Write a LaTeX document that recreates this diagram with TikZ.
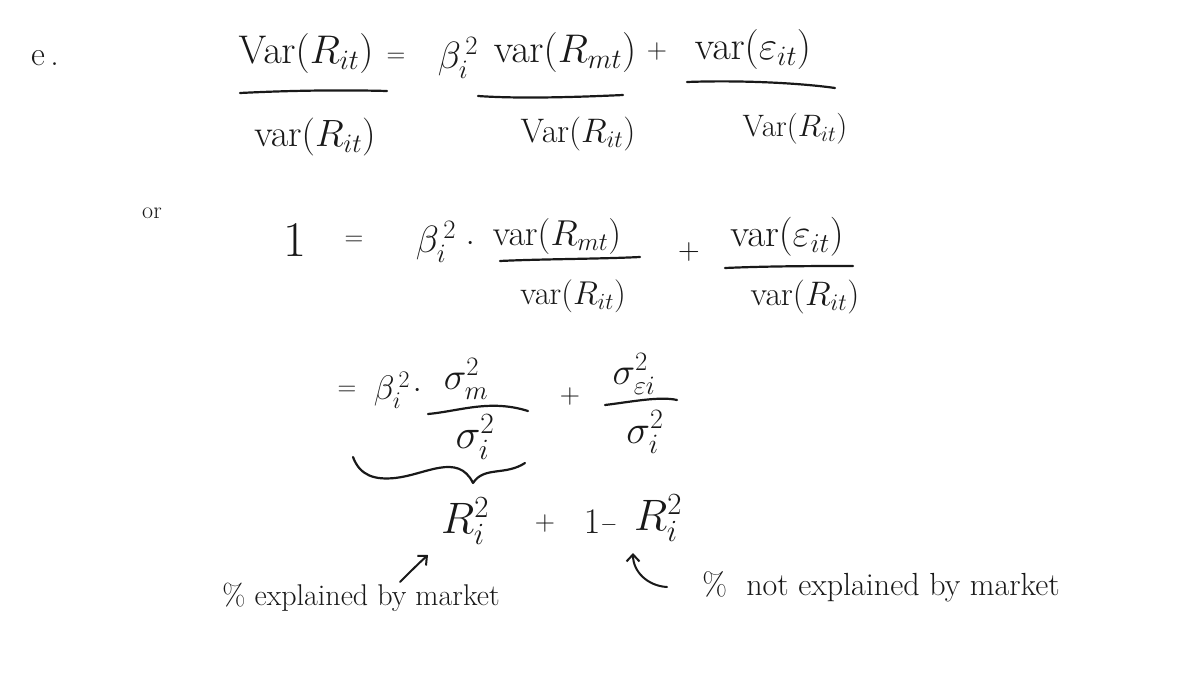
\RequirePackage{fix-cm}
\documentclass[tikz,border=0pt]{standalone}
\usepackage{amsmath}
\usetikzlibrary{arrows.meta}
\newcommand{\fsz}[1]{\fontsize{#1}{#1}\selectfont}
\begin{document}
\begin{tikzpicture}[x=1pt,y=-1pt]
\tikzset{
  ink/.style={line width=2.2pt, line cap=round, line join=round, black!90},
  arr/.style={ink, line width=2pt, -{Straight Barb[length=7pt,width=13pt]}},
  m/.style={inner sep=0pt, outer sep=0pt, text=black!90},
}
\useasboundingbox[fill=white] (0,0) rectangle (1182,674);
% ---------------- line 1
\node[m,font=\fsz{34}] (e) at (45,58) {e\,.};
\node[m,font=\fsz{40}] (n1) at (306,54) {$\mathrm{Var}(R_{it})$};
\node[m,font=\fsz{26}] (eq1) at (396,58) {$=$};
\node[m,font=\fsz{38}] (b1) at (458,58) {$\beta_i^{\,2}$};
\node[m,font=\fsz{40}] (n2) at (565,53) {$\mathrm{var}(R_{mt})$};
\node[m,font=\fsz{28}] (p1) at (657,52) {$+$};
\node[m,font=\fsz{40}] (n3) at (753,50) {$\mathrm{var}(\varepsilon_{it})$};
\draw[ink] (240,93) .. controls (300,90) and (350,90) .. (387,91);
\draw[ink] (478,96) .. controls (520,99) and (580,97) .. (623,95);
\draw[ink] (687,82) .. controls (740,80) and (800,83) .. (835,88);
\node[m,font=\fsz{38}] (d1) at (315,137) {$\mathrm{var}(R_{it})$};
\node[m,font=\fsz{34}] (d2) at (578,134) {$\mathrm{Var}(R_{it})$};
\node[m,font=\fsz{31}] (d3) at (795,129) {$\mathrm{Var}(R_{it})$};
% ---------------- line 2
\node[m,font=\fsz{24}] (or) at (152,213) {or};
\node[m,font=\fsz{50}] (one) at (295,240) {$1$};
\node[m,font=\fsz{26}] (eq2) at (354,241) {$=$};
\node[m,font=\fsz{38}] (b2) at (436,242) {$\beta_i^{\,2}$};
\node[m,font=\fsz{30}] (dot2) at (471,244) {$\cdot$};
\node[m,font=\fsz{36}] (n4) at (557,236) {$\mathrm{var}(R_{mt})$};
\draw[ink] (500,261) .. controls (540,259) and (600,259) .. (640,257);
\node[m,font=\fsz{33}] (d4) at (573,296) {$\mathrm{var}(R_{it})$};
\node[m,font=\fsz{30}] (p2) at (689,252) {$+$};
\node[m,font=\fsz{39}] (n5) at (787,237) {$\mathrm{var}(\varepsilon_{it})$};
\draw[ink] (725,268) .. controls (770,266) and (820,266) .. (853,266);
\node[m,font=\fsz{34}] (d5) at (805,297) {$\mathrm{var}(R_{it})$};
% ---------------- line 3
\node[m,font=\fsz{26}] (eq3) at (347,391) {$=$};
\node[m,font=\fsz{34}] (b3) at (392,390) {$\beta_i^{\,2}$};
\node[m,font=\fsz{30}] (dot3) at (418,391) {$\cdot$};
\node[m,font=\fsz{38}] (n6) at (466,379) {$\sigma_m^{2}$};
\draw[ink] (428,414) .. controls (460,411) and (490,399) .. (528,411);
\node[m,font=\fsz{42}] (d6) at (475,437) {$\sigma_i^{2}$};
\node[m,font=\fsz{28}] (p3) at (570,396) {$+$};
\node[m,font=\fsz{38}] (n7) at (634,374) {$\sigma_{\varepsilon i}^{2}$};
\draw[ink] (605,405) .. controls (630,402) and (660,396) .. (677,400);
\node[m,font=\fsz{40}] (d7) at (645,432) {$\sigma_i^{2}$};
% brace
\draw[ink] (353,457) .. controls (360,476) and (375,480) .. (395,478)
  .. controls (425,475) and (458,452) .. (473,483)
  .. controls (484,466) and (505,476) .. (525,463);
% ---------------- line 4
\node[m,font=\fsz{44}] (r1) at (465,521) {$R_i^{2}$};
\node[m,font=\fsz{28}] (p4) at (545,523) {$+$};
\node[m,font=\fsz{36}] (one4) at (592,522) {$1$};
\node[m,font=\fsz{22}] (mi4) at (609,525) {$-$};
\node[m,font=\fsz{44}] (r2) at (658,518) {$R_i^{2}$};
% ---------------- annotations
\node[m,font=\fsz{30}] (t1) at (361,597) {\%\ explained by market};
\node[m,font=\fsz{32}] (t2) at (881,587) {\%\ \ not explained by market};
\coordinate (a1s) at (400,582);
\coordinate (a1e) at (428,555);
\coordinate (a2s) at (667,587);
\coordinate (a2e) at (633,553);
\draw[arr] (a1s) .. controls (410,572) and (419,563) .. (a1e);
\draw[arr] (a2s) .. controls (648,586) and (633,572) .. (a2e);
\end{tikzpicture}
\end{document}
